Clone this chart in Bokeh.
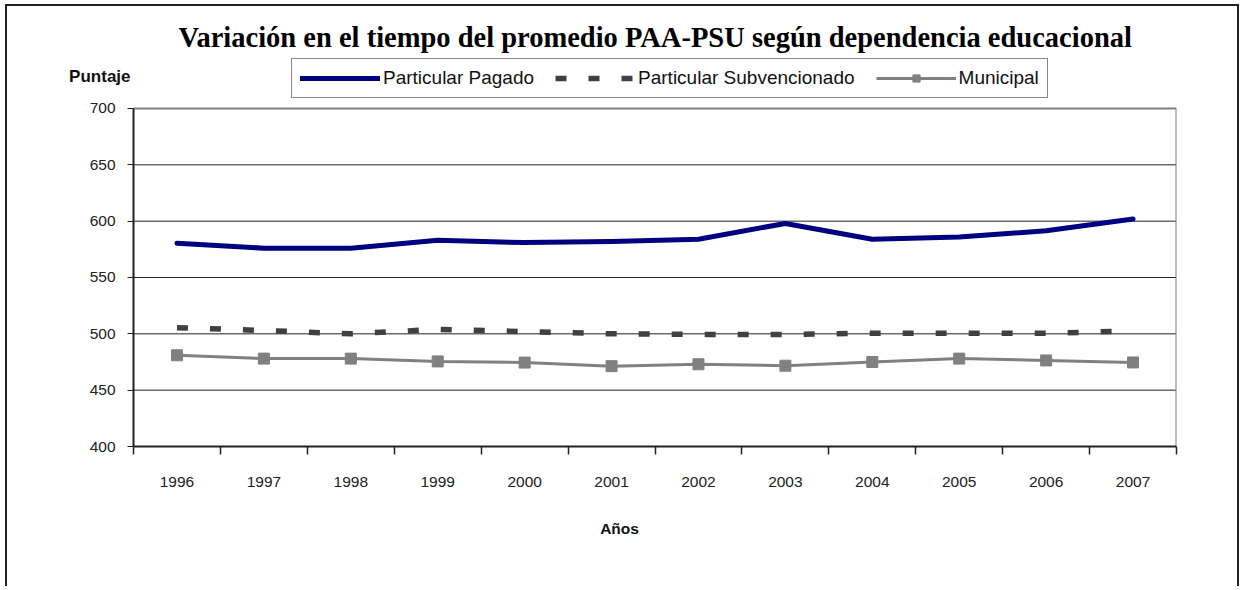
from bokeh.plotting import figure
from bokeh.models import FixedTicker, Legend, LegendItem, Label, Range1d, Title
from bokeh.embed import file_html
from bokeh.resources import INLINE

# ---- data ----
years = [1996, 1997, 1998, 1999, 2000, 2001, 2002, 2003, 2004, 2005, 2006, 2007]
pagado = [580.5, 576, 576, 583, 581, 582, 584, 598, 584, 586, 591.5, 602]
subvencionado = [505.5, 503, 500, 504, 502, 500, 499.5, 499.5, 500.5, 500.5, 500.5, 502.5]
municipal = [481, 478, 478, 475.5, 474.5, 471.3, 473, 471.7, 475, 478, 476.4, 474.6]
y_ticks = [400, 450, 500, 550, 600, 650, 700]
series_names = ["Particular Pagado", "Particular Subvencionado", "Municipal"]
title_text = "Variación en el tiempo del promedio PAA-PSU según dependencia educacional"

SANS = "Liberation Sans"

x_lo, x_hi = years[0] - 0.5, years[-1] + 0.5

W, H = 1234, 582
# The frame is extended around the data box (400-700, first to last category) so the
# legend, "Puntaje" and the y tick labels lie inside it; axes are pinned to the data box.
p = figure(width=W, height=H, output_backend="svg", toolbar_location=None,
           x_range=Range1d(x_lo - 0.817, x_hi),
           y_range=Range1d(y_ticks[0] - 7.1, y_ticks[-1] + 49.7),
           min_border_left=55, min_border_right=65, min_border_top=46,
           min_border_bottom=134)
p.styles = {"margin-left": "5px", "margin-top": "4px",
            "border-left": "2px solid #222", "border-top": "2px solid #222",
            "border-right": "2px solid #222"}

p.title = Title(text=title_text, text_font="Liberation Serif", text_font_size="28.5px",
                text_font_style="bold", align="left", text_color="#000000",
                standoff=0, offset=116)

p.background_fill_color = "white"
p.border_fill_color = "white"
p.outline_line_color = None

# horizontal grid lines, limited to the data box
grid_vals = y_ticks[1:-1]
p.segment(x0=[x_lo] * len(grid_vals), y0=grid_vals, x1=[x_hi] * len(grid_vals),
          y1=grid_vals, line_color="#222222", line_width=1)
# plot-area border (top at 700, right edge at the last category boundary)
p.segment(x0=[x_lo, x_hi], y0=[y_ticks[-1], y_ticks[0]], x1=[x_hi, x_hi],
          y1=[y_ticks[-1], y_ticks[-1]], line_color="#808080", line_width=2)
# category axis line at 400
p.segment(x0=[x_lo], y0=[y_ticks[0]], x1=[x_hi], y1=[y_ticks[0]],
          line_color="#222222", line_width=2)

p.xgrid.visible = False
p.ygrid.visible = False

# x axis (drawn at the frame bottom, 8 px under 400): labels at year centres,
# tick marks at the category boundaries pointing up to the 400 line
boundaries = [y - 0.5 for y in years] + [years[-1] + 0.5]
xa = p.xaxis[0]
xa.ticker = FixedTicker(ticks=years, minor_ticks=boundaries)
xa.bounds = (x_lo, x_hi)
xa.axis_line_color = None
xa.major_tick_out = 0
xa.major_tick_in = 0
xa.minor_tick_out = 0
xa.minor_tick_in = 8
xa.minor_tick_line_color = "#222222"
xa.minor_tick_line_width = 1.5
xa.major_label_text_font = SANS
xa.major_label_text_font_size = "15.5px"
xa.major_label_text_color = "#222222"
xa.major_label_standoff = 22
xa.axis_label = "Años"
xa.axis_label_text_font = SANS
xa.axis_label_text_font_size = "15.5px"
xa.axis_label_text_font_style = "bold"
xa.axis_label_text_color = "#111111"
xa.axis_label_standoff = 30

ya = p.yaxis[0]
ya.fixed_location = x_lo
ya.ticker = FixedTicker(ticks=y_ticks)
ya.bounds = (y_ticks[0], y_ticks[-1])
ya.major_tick_out = 6
ya.major_tick_in = 0
ya.minor_tick_out = 0
ya.minor_tick_in = 0
ya.major_tick_line_color = "#222222"
ya.axis_line_color = "#222222"
ya.axis_line_width = 2
ya.major_label_text_font = SANS
ya.major_label_text_font_size = "15.5px"
ya.major_label_text_color = "#222222"
ya.major_label_standoff = 12

# series
r_pp = p.line(years, pagado, line_color="#000080", line_width=5, line_join="round",
              line_cap="round")
r_sub = p.line(years, subvencionado, line_color="#404040", line_width=5.5,
               line_dash="11 22")
r_mun = p.line(years, municipal, line_color="#808080", line_width=3)
r_mun_m = p.scatter(years, municipal, marker="square", size=11, fill_color="#808080",
                    line_color="#808080")

legend = Legend(items=[
    LegendItem(label=series_names[0], renderers=[r_pp]),
    LegendItem(label=series_names[1], renderers=[r_sub]),
    LegendItem(label=series_names[2], renderers=[r_mun, r_mun_m]),
], location=(229, 356), orientation="horizontal")
legend.glyph_width = 80
legend.glyph_height = 18
legend.label_standoff = 3
legend.spacing = 21
legend.padding = 8
legend.margin = 0
legend.border_line_color = "#111111"
legend.border_line_width = 1
legend.background_fill_alpha = 1
legend.label_text_font = SANS
legend.label_text_font_size = "19px"
legend.label_text_color = "#111111"
p.add_layout(legend, "center")

p.add_layout(Label(x=x_lo, y=y_ticks[-1], x_offset=-3, y_offset=32,
                   text="Puntaje", text_align="right", text_baseline="middle",
                   text_font=SANS, text_font_size="17px", text_font_style="bold",
                   text_color="#111111"))

open("out.html", "w").write(file_html(p, INLINE))
